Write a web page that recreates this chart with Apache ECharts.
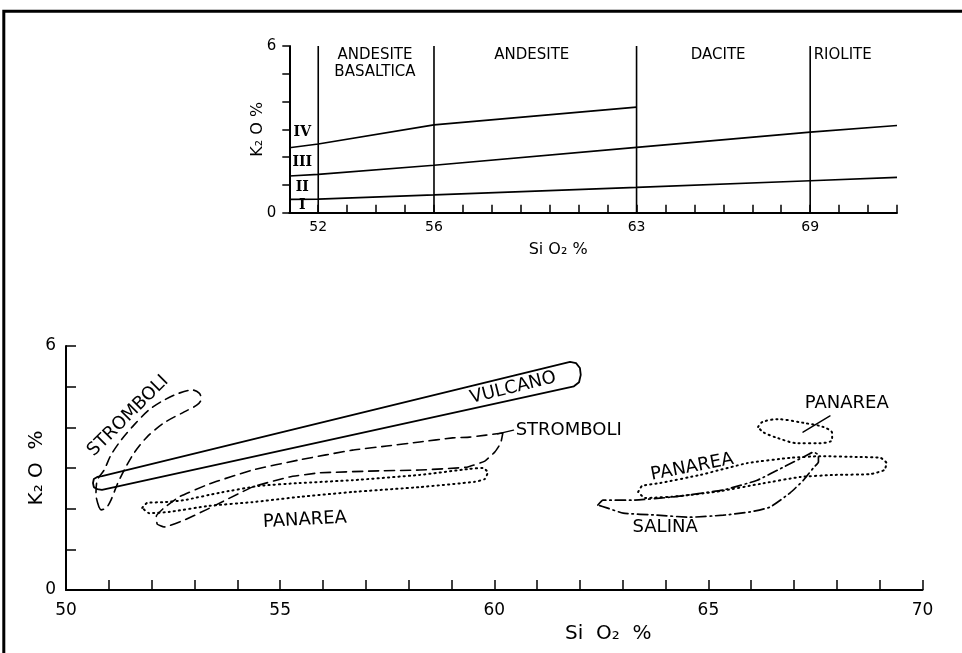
<!DOCTYPE html>
<html><head><meta charset="utf-8">
<script src="https://cdn.jsdelivr.net/npm/echarts@6/dist/echarts.min.js"></script>
<style>html,body{margin:0;padding:0;background:#fff}#c{width:962px;height:653px}</style>
</head><body><div id="c"></div><script>
// ---------- TOP INSET: classification diagram ----------
const topSiO2 = [51, 52, 56, 63, 69, 72];
const boundaryI_II = [0.48, 0.49, 0.64, 0.91, 1.15, 1.27];
const boundaryII_III = [1.32, 1.38, 1.71, 2.35, 2.90, 3.14];
const boundaryIII_IV_SiO2 = [51, 52, 56, 63];
const boundaryIII_IV = [2.34, 2.47, 3.16, 3.80];
const rockBoundaries = [52, 56, 63, 69];
const topTickLabels = [52, 56, 63, 69];
const rockNames = ['ANDESITE\nBASALTICA', 'ANDESITE', 'DACITE', 'RIOLITE'];
const rockNameSiO2 = [53.96, 59.38, 65.82, 69.12];
const rockNameK2O = [5.37, 5.67, 5.67, 5.67];
const seriesNumerals = ['I', 'II', 'III', 'IV'];
const numeralK2O = [0.28, 0.91, 1.81, 2.90];
const numeralSiO2 = 51.45;

// ---------- MAIN DIAGRAM: fields ----------
const bottomTickLabels = [50, 55, 60, 65, 70];

const vulcanoSiO2 = [50.63, 50.65, 50.73, 50.84, 61.77, 61.91, 62.00, 62.02, 61.98, 61.86, 61.70, 50.84, 50.73, 50.65, 50.63];
const vulcanoK2O  = [2.63, 2.73, 2.78, 2.80, 5.61, 5.58, 5.46, 5.29, 5.11, 5.01, 4.97, 2.46, 2.48, 2.53, 2.63];

const stromboliASiO2 = [50.77, 50.70, 50.73, 50.89, 51.05, 51.29, 51.59, 51.94, 52.29, 52.64, 52.95, 53.11, 53.16, 53.06, 52.76, 52.29, 51.89, 51.59, 51.36, 51.19, 51.05, 50.94, 50.82, 50.77];
const stromboliAK2O  = [2.04, 2.34, 2.70, 2.95, 3.32, 3.69, 4.06, 4.43, 4.67, 4.84, 4.92, 4.84, 4.70, 4.55, 4.38, 4.11, 3.76, 3.37, 2.95, 2.58, 2.21, 2.02, 1.97, 2.04];

const stromboliBSiO2 = [60.20, 59.43, 59.03, 58.26, 57.49, 56.69, 55.45, 54.35, 53.35, 52.64, 52.29, 52.11, 52.13, 52.29, 52.76, 53.27, 54.35, 55.22, 55.92, 57.32, 58.26, 59.36, 59.78, 60.01, 60.15, 60.20];
const stromboliBK2O  = [3.86, 3.76, 3.74, 3.64, 3.54, 3.44, 3.20, 2.95, 2.61, 2.29, 2.02, 1.82, 1.62, 1.55, 1.72, 1.97, 2.53, 2.78, 2.88, 2.93, 2.95, 3.02, 3.17, 3.39, 3.61, 3.86];
const stromboliLeaderSiO2 = [60.08, 60.45];
const stromboliLeaderK2O = [3.84, 3.93];

const panareaASiO2 = [51.78, 51.89, 52.29, 52.76, 53.58, 54.51, 55.45, 56.69, 58.26, 59.43, 59.73, 59.85, 59.78, 59.54, 58.26, 56.69, 55.45, 54.35, 53.35, 52.41, 51.94, 51.78];
const panareaAK2O  = [2.02, 2.14, 2.16, 2.21, 2.39, 2.56, 2.63, 2.70, 2.83, 2.98, 3.00, 2.90, 2.73, 2.66, 2.53, 2.41, 2.29, 2.16, 2.07, 1.92, 1.89, 2.02];

const panareaBSiO2 = [63.36, 63.45, 63.87, 64.81, 65.91, 66.91, 67.61, 68.55, 69.02, 69.16, 69.11, 68.78, 67.96, 67.15, 66.21, 65.27, 64.34, 63.52, 63.36];
const panareaBK2O  = [2.41, 2.56, 2.63, 2.83, 3.12, 3.25, 3.29, 3.27, 3.25, 3.12, 2.95, 2.85, 2.83, 2.78, 2.61, 2.43, 2.31, 2.26, 2.41];

const panareaCSiO2 = [66.16, 66.26, 66.61, 67.22, 67.68, 67.89, 67.89, 67.61, 67.08, 66.61, 66.28, 66.16];
const panareaCK2O  = [4.01, 4.13, 4.20, 4.11, 4.01, 3.86, 3.69, 3.61, 3.61, 3.74, 3.88, 4.01];
const panareaLeaderSiO2 = [67.21, 67.84];
const panareaLeaderK2O = [3.88, 4.28];

const salinaSiO2 = [62.42, 62.54, 63.24, 64.18, 65.35, 66.14, 66.75, 67.31, 67.45, 67.57, 67.57, 67.45, 67.22, 66.91, 66.44, 65.98, 65.35, 64.57, 63.80, 63.01, 62.63, 62.42];
const salinaK2O  = [2.09, 2.21, 2.21, 2.29, 2.46, 2.70, 3.02, 3.32, 3.39, 3.32, 3.15, 3.00, 2.70, 2.39, 2.04, 1.92, 1.84, 1.79, 1.84, 1.89, 2.02, 2.09];

const fieldNames = ['VULCANO', 'STROMBOLI', 'STROMBOLI', 'PANAREA', 'PANAREA', 'PANAREA', 'SALINA'];
const fieldNameSiO2 = [60.44, 60.50, 51.45, 55.58, 64.62, 68.23, 63.99];
const fieldNameK2O  = [4.97, 3.93, 4.28, 1.72, 3.02, 4.60, 1.55];

const zip = (xs, ys) => xs.map((x, i) => [x, ys[i]]);
const INK = '#000';
const FONT = 'DejaVu Sans';

function loop(xs, ys, type, width, smooth) {
  return {
    type: 'line', xAxisIndex: 1, yAxisIndex: 1, data: zip(xs, ys),
    symbol: 'none', smooth: smooth, silent: true,
    lineStyle: { color: INK, width: width, type: type, cap: 'round', join: 'round' }
  };
}

const series = [];
// top inset lines
series.push({ type: 'line', xAxisIndex: 0, yAxisIndex: 0, data: zip(topSiO2, boundaryI_II), symbol: 'none', lineStyle: { color: INK, width: 1.6 } });
series.push({ type: 'line', xAxisIndex: 0, yAxisIndex: 0, data: zip(topSiO2, boundaryII_III), symbol: 'none', lineStyle: { color: INK, width: 1.6 } });
series.push({ type: 'line', xAxisIndex: 0, yAxisIndex: 0, data: zip(boundaryIII_IV_SiO2, boundaryIII_IV), symbol: 'none', lineStyle: { color: INK, width: 1.6 } });
rockBoundaries.forEach(b => {
  series.push({ type: 'line', xAxisIndex: 0, yAxisIndex: 0, data: [[b, 0], [b, 6]], symbol: 'none', lineStyle: { color: INK, width: 1.6 } });
});
const labelItem = { opacity: 1, color: 'rgba(0,0,0,0)' };
series.push({
  type: 'scatter', xAxisIndex: 0, yAxisIndex: 0, symbolSize: 1, silent: true, clip: false,
  itemStyle: labelItem,
  data: rockNames.map((n, i) => ({
    value: [rockNameSiO2[i], rockNameK2O[i]],
    label: { show: true, formatter: n, position: 'inside', align: i === 3 ? 'left' : 'center',
      fontFamily: FONT, fontSize: 15, color: INK, lineHeight: 17 }
  }))
});
series.push({
  type: 'scatter', xAxisIndex: 0, yAxisIndex: 0, symbolSize: 1, silent: true, clip: false,
  itemStyle: labelItem,
  data: seriesNumerals.map((n, i) => ({
    value: [numeralSiO2, numeralK2O[i]],
    label: { show: true, formatter: n, position: 'inside', fontFamily: 'DejaVu Serif', fontWeight: 'bold', fontSize: 14, color: INK }
  }))
});

// main diagram fields
series.push(loop(vulcanoSiO2, vulcanoK2O, 'solid', 1.8, false));
series.push(loop(stromboliASiO2, stromboliAK2O, [9, 6], 1.6, 0.3));
series.push(loop(stromboliBSiO2, stromboliBK2O, [10, 6], 1.6, 0.12));
series.push(loop(stromboliLeaderSiO2, stromboliLeaderK2O, 'solid', 1.4, false));
series.push(loop(panareaASiO2, panareaAK2O, [1.2, 4], 2, 0.15));
series.push(loop(panareaBSiO2, panareaBK2O, [1.2, 4], 2, 0.15));
series.push(loop(panareaCSiO2, panareaCK2O, [1.2, 4], 2, 0.3));
series.push(loop(panareaLeaderSiO2, panareaLeaderK2O, 'solid', 1.4, false));
series.push(loop(salinaSiO2, salinaK2O, [10, 4, 1.5, 4], 1.7, 0.15));

const fieldRot = [14, 0, 45, 3, 11, 0, 0];
series.push({
  type: 'scatter', xAxisIndex: 1, yAxisIndex: 1, symbolSize: 1, silent: true, clip: false,
  itemStyle: labelItem,
  data: fieldNames.map((n, i) => ({
    value: [fieldNameSiO2[i], fieldNameK2O[i]],
    label: { show: true, formatter: n, position: 'inside', rotate: fieldRot[i],
      align: i === 1 ? 'left' : 'center',
      fontFamily: FONT, fontSize: 18, color: INK }
  }))
});

const axisLine = { show: true, lineStyle: { color: INK, width: 2 } };

const option = {
  animation: false,
  backgroundColor: '#fff',
  graphic: [{
    type: 'rect', shape: { x: 3.8, y: 11.3, width: 1100, height: 800 },
    style: { fill: 'none', stroke: '#000', lineWidth: 3 }, silent: true
  }],
  grid: [
    { left: 289.3, top: 46, right: 65, bottom: 440.3 },
    { left: 66, top: 346, right: 39.5, bottom: 63 }
  ],
  xAxis: [
    { gridIndex: 0, type: 'value', min: 51, max: 72, interval: 1,
      axisLine: axisLine, splitLine: { show: false },
      axisTick: { inside: true, length: 8, lineStyle: { color: INK, width: 1.5 } },
      axisLabel: { margin: 8, fontFamily: FONT, fontSize: 14, color: INK,
        formatter: v => topTickLabels.indexOf(v) >= 0 ? String(v) : '' },
      name: 'Si O₂ %', nameLocation: 'middle', nameGap: 29, nameMoveOverlap: false,
      nameTextStyle: { fontFamily: FONT, fontSize: 16, color: INK, padding: [0, 70, 0, 0] } },
    { gridIndex: 1, type: 'value', min: 50, max: 70, interval: 1,
      axisLine: axisLine, splitLine: { show: false },
      axisTick: { inside: true, length: 10, lineStyle: { color: INK, width: 1.5 } },
      axisLabel: { margin: 12, fontFamily: FONT, fontSize: 17, color: INK,
        formatter: v => bottomTickLabels.indexOf(v) >= 0 ? String(v) : '' },
      name: 'Si  O₂  %', nameLocation: 'middle', nameGap: 34, nameMoveOverlap: false,
      nameTextStyle: { fontFamily: FONT, fontSize: 20, color: INK, padding: [0, 0, 0, 228] } }
  ],
  yAxis: [
    { gridIndex: 0, type: 'value', min: 0, max: 6, interval: 1,
      axisLine: axisLine, splitLine: { show: false },
      axisTick: { inside: false, length: 7, lineStyle: { color: INK, width: 1.5 } },
      axisLabel: { margin: 13, fontFamily: FONT, fontSize: 15, color: INK,
        formatter: v => (v === 0 || v === 6) ? String(v) : '' },
      name: 'K₂ O %', nameLocation: 'middle', nameGap: 23, nameMoveOverlap: false,
      nameTextStyle: { fontFamily: FONT, fontSize: 16, color: INK } },
    { gridIndex: 1, type: 'value', min: 0, max: 6, interval: 1,
      axisLine: axisLine, splitLine: { show: false },
      axisTick: { inside: true, length: 10, lineStyle: { color: INK, width: 1.5 } },
      axisLabel: { margin: 10, fontFamily: FONT, fontSize: 17, color: INK,
        formatter: v => (v === 0 || v === 6) ? String(v) : '' },
      name: 'K₂ O  %', nameLocation: 'middle', nameGap: 19, nameMoveOverlap: false,
      nameTextStyle: { fontFamily: FONT, fontSize: 20, color: INK } }
  ],
  series: series
};

const chart = echarts.init(document.getElementById('c'), null, { renderer: 'canvas' });
chart.setOption(option);
</script></body></html>
